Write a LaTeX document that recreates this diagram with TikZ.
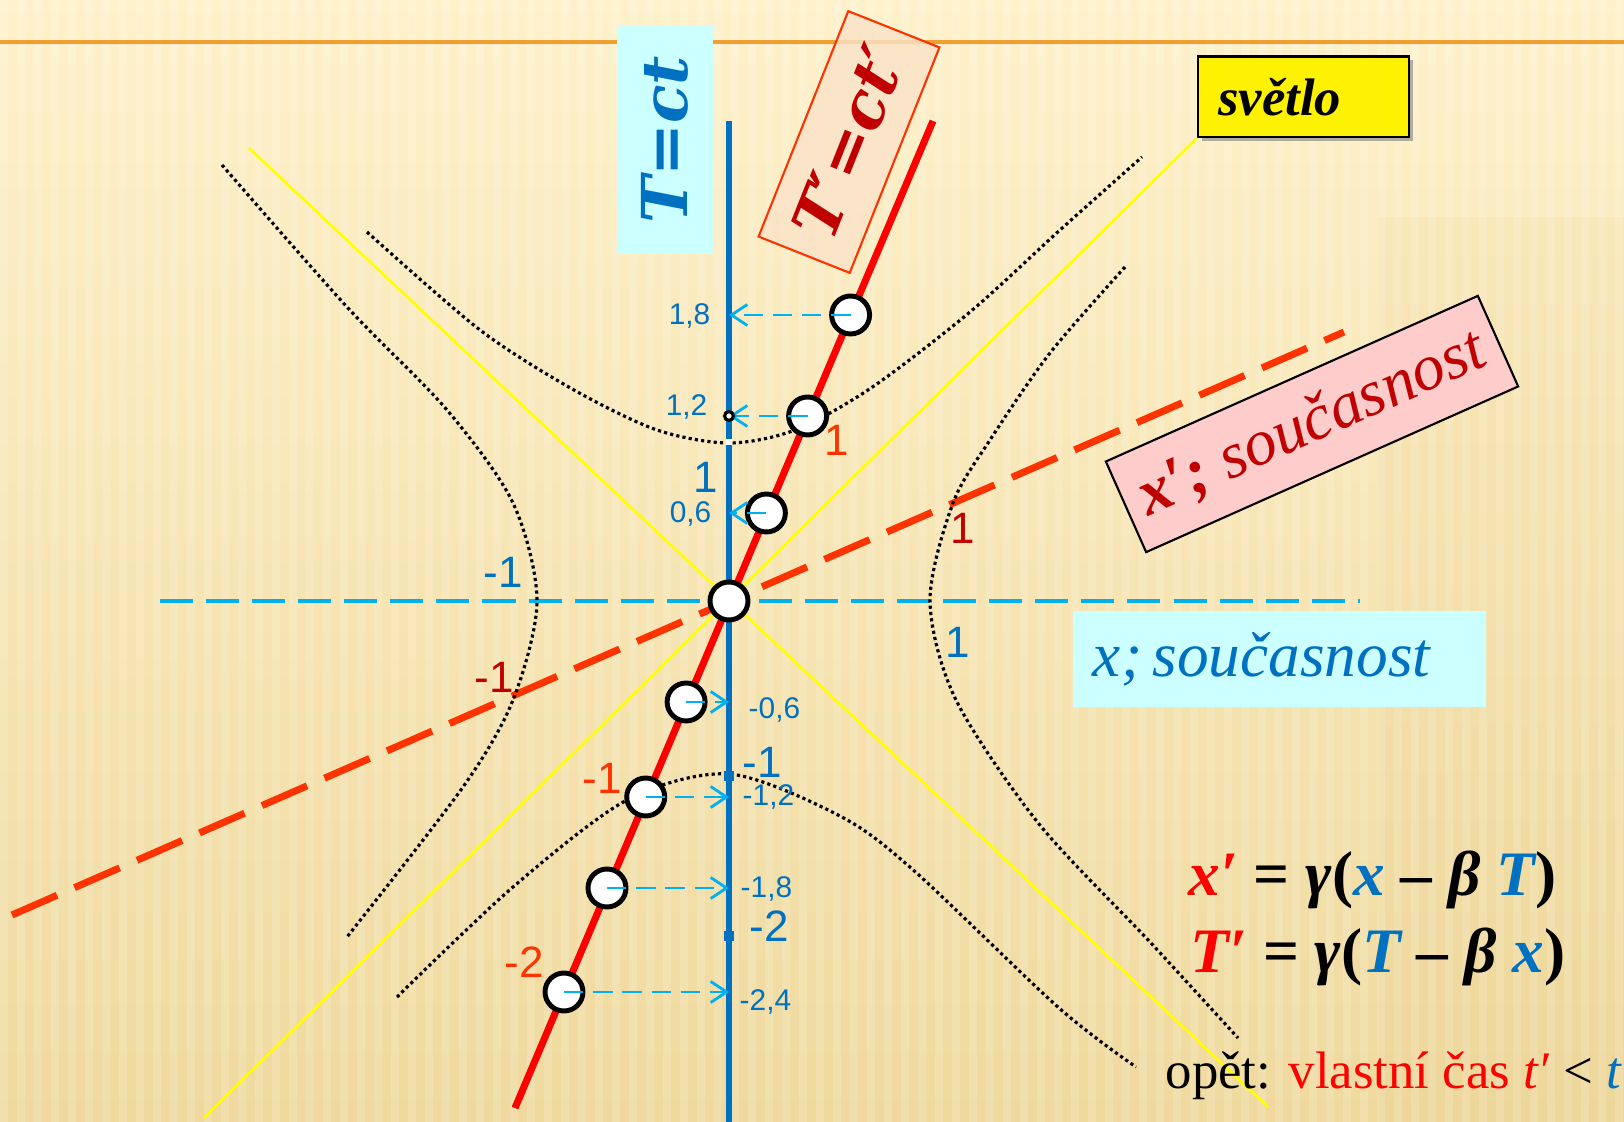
\documentclass[tikz,border=0pt]{standalone}
\usepackage{fontspec}
\setmainfont{Liberation Serif}
\setsansfont{Liberation Sans}
\newfontfamily\labfont{DejaVu Serif}
\usetikzlibrary{positioning,arrows.meta,shadows}
\definecolor{tblue}{HTML}{0070C0}
\definecolor{cyanln}{HTML}{00B0F0}
\definecolor{tred}{HTML}{FF0000}
\definecolor{ored}{HTML}{FF3300}
\definecolor{dred}{HTML}{C00000}
\definecolor{boxcyan}{HTML}{CCFFFF}
\definecolor{boxpink}{HTML}{FFCCCC}
\definecolor{boxpeach}{HTML}{FBE2C8}
\definecolor{bgtop}{HTML}{FEF1CB}
\definecolor{bgbot}{HTML}{EFD99E}
\definecolor{bgtan}{HTML}{E6C67E}
\definecolor{orline}{HTML}{F0A030}
\definecolor{lightyel}{HTML}{FFFF00}
\begin{document}
\begin{tikzpicture}[x=0.01cm,y=-0.01cm,
    ev/.style={circle,draw=black,fill=white,line width=1.4pt,minimum size=10.8pt,inner sep=0pt},
    proj/.style={cyanln,line width=0.8pt,dash pattern=on 5.5pt off 2.8pt,-{Straight Barb[length=4.5pt,width=6pt]}},
    num/.style={font=\sffamily\fontsize{8.5}{10}\selectfont,text=tblue,inner sep=0pt},
    big/.style={font=\sffamily\fontsize{12.5}{14}\selectfont,inner sep=0pt},
    hyp/.style={line width=0.9pt,dash pattern=on 0.9pt off 0.9pt},
    light/.style={lightyel,line width=0.75pt},
    tagbox/.style={inner sep=0pt,font=\labfont\bfseries\itshape\fontsize{18}{20}\selectfont},
    eq/.style={inner sep=0pt,anchor=base west,font=\bfseries\fontsize{18}{20}\selectfont}]
  % background
  \useasboundingbox (0,0) rectangle (1624,1122);
  \fill[top color=bgtop,bottom color=bgbot] (0,0) rectangle (1624,1122);
  \fill[bgtan,opacity=.12] (1378,217) rectangle (1624,1122);
  \foreach \s in {0,17,...,1615} \fill[white,opacity=.15] (\s,0) rectangle ++(8,1122);
  \draw[orline,line width=1.1pt] (0,42) -- (1624,42);
  % axis ends
  \coordinate (Ttop) at (729,121);  \coordinate (Tbot) at (729,1122);
  \coordinate (Ptop) at (933,121);  \coordinate (Pbot) at (515,1108);
  \coordinate (xL) at (160,601);    \coordinate (xR) at (1360,601);
  \coordinate (pL) at (12,915);     \coordinate (pR) at (1344,332);
  \coordinate (lA) at (249,148);    \coordinate (lA2) at (1268,1107);
  \coordinate (lB) at (204,1118);
  \node[fill=yellow,draw=black,line width=0.8pt,drop shadow={shadow xshift=1pt,shadow yshift=-1pt,opacity=.6},
        minimum height=22.8pt,text width=48.6pt,inner xsep=5.7pt,align=left,
        font=\bfseries\itshape\fontsize{15}{17}\selectfont] (sv) at (1303.5,97) {světlo};
  % light lines
  \draw[light] (lA) -- (lA2);
  \draw[light] (lB) -- (sv.south west);
  % x and x' axes
  \draw[cyanln,line width=1.15pt,dash pattern=on 9.4pt off 3.7pt] (xL) -- (xR);
  \draw[ored,line width=2pt,dash pattern=on 14pt off 5.4pt] (pL) -- (pR);
  % hyperbolas
  \draw[hyp] plot[smooth] coordinates {(367,232) (480,330) (574,390) (657,430) (729,443)
      (795,430) (871,388) (970,312) (1060,230) (1142,157)};
  \draw[hyp] plot[smooth] coordinates {(222,165) (347,307) (447,410) (513,503) (537,601)
      (513,700) (463,787) (347,937)};
  \draw[hyp] plot[smooth] coordinates {(1125,267) (1050,353) (990,440) (953,503) (930,601)
      (956,700) (1039,824) (1150,942) (1238,1038)};
  \draw[hyp] plot[smooth] coordinates {(397,997) (513,887) (627,800) (729,774) (838,815)
      (911,868) (1059,1008) (1136,1067)};
  % T and T' axes
  \draw[tblue,line width=1.6pt] (Ttop) -- (Tbot);
  \draw[tred,line width=2pt] (Ptop) -- (Pbot);
  % boxes
  \node[tagbox,fill=boxcyan,rotate=90,minimum width=64.6pt,minimum height=27.3pt,text=tblue] (Tlab) at (665,140) {T=ct};
  \node[tagbox,fill=boxpeach,fill opacity=.8,text opacity=1,draw=ored,line width=0.6pt,rotate=68.3,
        minimum width=69pt,minimum height=27.9pt,text=dred] (Tplab) at (849,142) {T′=ct′};
  \node[fill=boxpink,draw=black,line width=0.6pt,rotate=24,minimum width=115.8pt,minimum height=28.2pt,
        inner sep=0pt,text=dred,font=\itshape\fontsize{18.5}{20}\selectfont] (xplab) at (1312,424) {\textbf{x′;} současnost};
  \node[fill=boxcyan,minimum height=27.3pt,text width=106.1pt,inner xsep=5.7pt,align=left,
        text=tblue,font=\itshape\fontsize{18}{20}\selectfont] (xlab) at (1279.5,659) {x;\,současnost};
  % events on the T' axis
  \node[ev] (O) at (729,601) {};
  \foreach \n/\x/\y in {p18/850.6/315,p12/807.6/416,p06/766.4/513,m06/686.1/702,m12/645.7/797,m18/607/888,m24/564/992}{
    \node[ev] (e\n) at (\x,\y) {};
    \coordinate (a\n) at (729,\y);
  }
  \foreach \n in {p18,p12,p06,m06,m12,m18,m24} \draw[proj] (e\n.center) -- (a\n);
  \node[circle,draw=black,fill=white,line width=0.9pt,minimum size=2.5pt,inner sep=0pt] (d12) at (729,416) {};
  \node[fill=white,minimum size=1.7pt,inner sep=0pt] (tk1) at (729,442) {};
  \node[fill=tblue,minimum size=2.8pt,inner sep=0pt] (tkm1) at (729,776) {};
  \node[fill=tblue,minimum size=2.8pt,inner sep=0pt] (tkm2) at (729,936) {};
  % readings on the T axis
  \node[num,anchor=east] (l18) at (711,316) {1,8};
  \node[num,anchor=east] (l12) at (708,407) {1,2};
  \node[num,anchor=east] (l06) at (712,514) {0,6};
  \node[num,anchor=west] (lm06) at (748,710) {-0,6};
  \node[num,anchor=west] (lm12) at (742,797) {-1,2};
  \node[num,anchor=west] (lm18) at (740,889) {-1,8};
  \node[num,anchor=west] (lm24) at (739,1002) {-2,4};
  % unit marks
  \node[big,text=tblue] (bT1) at (706,477) {1};
  \node[big,text=tblue] (bTm1) at (762,762) {-1};
  \node[big,text=tblue] (bTm2) at (769,926) {-2};
  \node[big,text=tblue] (bx1) at (958,642) {1};
  \node[big,text=tblue] (bxm1) at (503,572) {-1};
  \node[big,text=ored] (bP1) at (837,440) {1};
  \node[big,text=ored] (bPm1) at (602,778) {-1};
  \node[big,text=ored] (bPm2) at (524,962) {-2};
  \node[big,text=dred] (bX1) at (963,528) {1};
  \node[big,text=dred] (bXm1) at (494,677) {-1};
  % transformation
  \node[eq] (eqx) at (1188,895) {\textcolor{tred}{\itshape x′} = \textit{γ}(\textcolor{tblue}{\itshape x} – \textit{β} \textcolor{tblue}{\itshape T})};
  \node[eq] (eqT) at (1190,972) {\textcolor{tred}{\itshape T′} = \textit{γ}(\textcolor{tblue}{\itshape T} – \textit{β} \textcolor{tblue}{\itshape x})};
  \node[inner sep=0pt,anchor=base west,font=\fontsize{15}{17}\selectfont] (note) at (1165,1088)
    {opět: \textcolor{tred}{vlastní čas \textit{t′}} < \textcolor{tblue}{\textit{t}}};
\end{tikzpicture}
\end{document}
